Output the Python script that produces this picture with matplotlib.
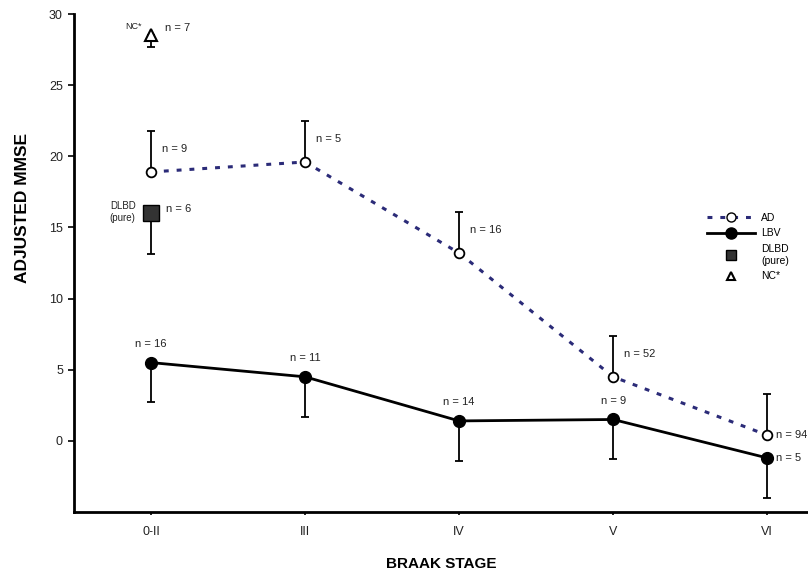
import numpy as np
import matplotlib.pyplot as plt
from matplotlib.lines import Line2D

plt.rcParams['font.family'] = ['Liberation Sans', 'DejaVu Sans']

stages = ['0-II', 'III', 'IV', 'V', 'VI']

ad_mean = [18.9, 19.6, 13.2, 4.5, 0.4]
ad_err = [2.9, 2.9, 2.9, 2.9, 2.9]
ad_n = ['n = 9', 'n = 5', 'n = 16', 'n = 52', 'n = 94']

lbv_mean = [5.5, 4.5, 1.4, 1.5, -1.2]
lbv_err = [2.8, 2.8, 2.8, 2.8, 2.8]
lbv_n = ['n = 16', 'n = 11', 'n = 14', 'n = 9', 'n = 5']

dlbd_mean = 16.0
dlbd_err = 2.9
dlbd_n = 'n = 6'

nc_mean = 28.5
nc_err = 0.8
nc_n = 'n = 7'

navy = '#2b2b78'
x = np.arange(len(stages))

fig = plt.figure(figsize=(8.08, 5.77), dpi=100)
ax = fig.add_axes([0.0916, 0.1127, 0.9084, 0.863])

eb = dict(fmt='none', ecolor='black', elinewidth=1.3, capsize=3, capthick=1.3, zorder=2)
ax.errorbar(x, ad_mean, yerr=[np.zeros(5), ad_err], **eb)
ax.errorbar(x, lbv_mean, yerr=[lbv_err, np.zeros(5)], **eb)
ax.errorbar([0], [dlbd_mean], yerr=[[dlbd_err], [0]], **eb)
ax.errorbar([0], [nc_mean], yerr=[[nc_err], [0]], **eb)

ax.plot(x, ad_mean, color=navy, lw=2.2, dashes=(1.6, 2.6), zorder=3)
ax.plot(x, ad_mean, 'o', ms=7, mfc='white', mec='black', mew=1.3, zorder=4)
ax.plot(x, lbv_mean, color='black', lw=2, marker='o', ms=8.5, zorder=4)
ax.plot([0], [dlbd_mean], 's', ms=11, mfc='#333333', mec='black', zorder=4)
ax.plot([0], [nc_mean], '^', ms=9, mfc='white', mec='black', mew=1.5, zorder=4)

fs = 8
tc = '#222222'
for i, t in enumerate(ad_n):
    if i == 4:
        ax.text(i + 0.06, ad_mean[i], t, fontsize=fs, ha='left', va='center', color=tc)
    else:
        ax.text(i + 0.07, ad_mean[i] + 1.6, t, fontsize=fs, ha='left', va='center', color=tc)
for i, t in enumerate(lbv_n):
    if i == 4:
        ax.text(i + 0.06, lbv_mean[i], t, fontsize=fs, ha='left', va='center', color=tc)
    else:
        ax.text(i, lbv_mean[i] + 1.3, t, fontsize=fs, ha='center', va='center', color=tc)

ax.text(0.1, dlbd_mean + 0.3, dlbd_n, fontsize=fs, ha='left', va='center', color=tc)
ax.text(-0.1, dlbd_mean + 0.1, 'DLBD\n(pure)', fontsize=7, ha='right', va='center', color=tc)
ax.text(0.09, nc_mean + 0.5, nc_n, fontsize=fs, ha='left', va='center', color=tc)
ax.text(-0.06, nc_mean + 0.6, 'NC*', fontsize=6.5, ha='right', va='center', color=tc)

ax.set_xlim(-0.5, 4.265)
ax.set_ylim(-5, 30)
ax.set_xticks(x)
ax.set_xticklabels(stages)
ax.set_yticks([0, 5, 10, 15, 20, 25, 30])
ax.tick_params(axis='both', labelsize=9, direction='out', length=4, width=1.2, labelcolor=tc)
ax.tick_params(axis='y', pad=4)
ax.tick_params(axis='x', pad=8, length=2)
for s in ['top', 'right']:
    ax.spines[s].set_visible(False)
for s in ['left', 'bottom']:
    ax.spines[s].set_linewidth(2)

ax.set_ylabel('ADJUSTED MMSE', fontsize=12.5, fontweight='bold')
ax.yaxis.set_label_coords(-0.06, 0.61)
ax.set_xlabel('BRAAK STAGE', fontsize=11, fontweight='bold', labelpad=14)

handles = [
    Line2D([], [], color=navy, lw=2.2, dashes=(1.6, 2.6), marker='o', ms=6.5,
           mfc='white', mec='black'),
    Line2D([], [], color='black', lw=2, marker='o', ms=8),
    Line2D([], [], ls='none', marker='s', ms=6.5, mfc='#333333', mec='black'),
    Line2D([], [], ls='none', marker='^', ms=5.5, mfc='white', mec='black', mew=1.5),
]
ax.legend(handles, ['AD', 'LBV', 'DLBD\n(pure)', 'NC*'], loc='upper left',
          bbox_to_anchor=(0.85, 0.62), frameon=False, fontsize=7.5,
          handlelength=4.6, labelspacing=0.55, handletextpad=0.6)

fig.savefig('out.png', dpi=100)
